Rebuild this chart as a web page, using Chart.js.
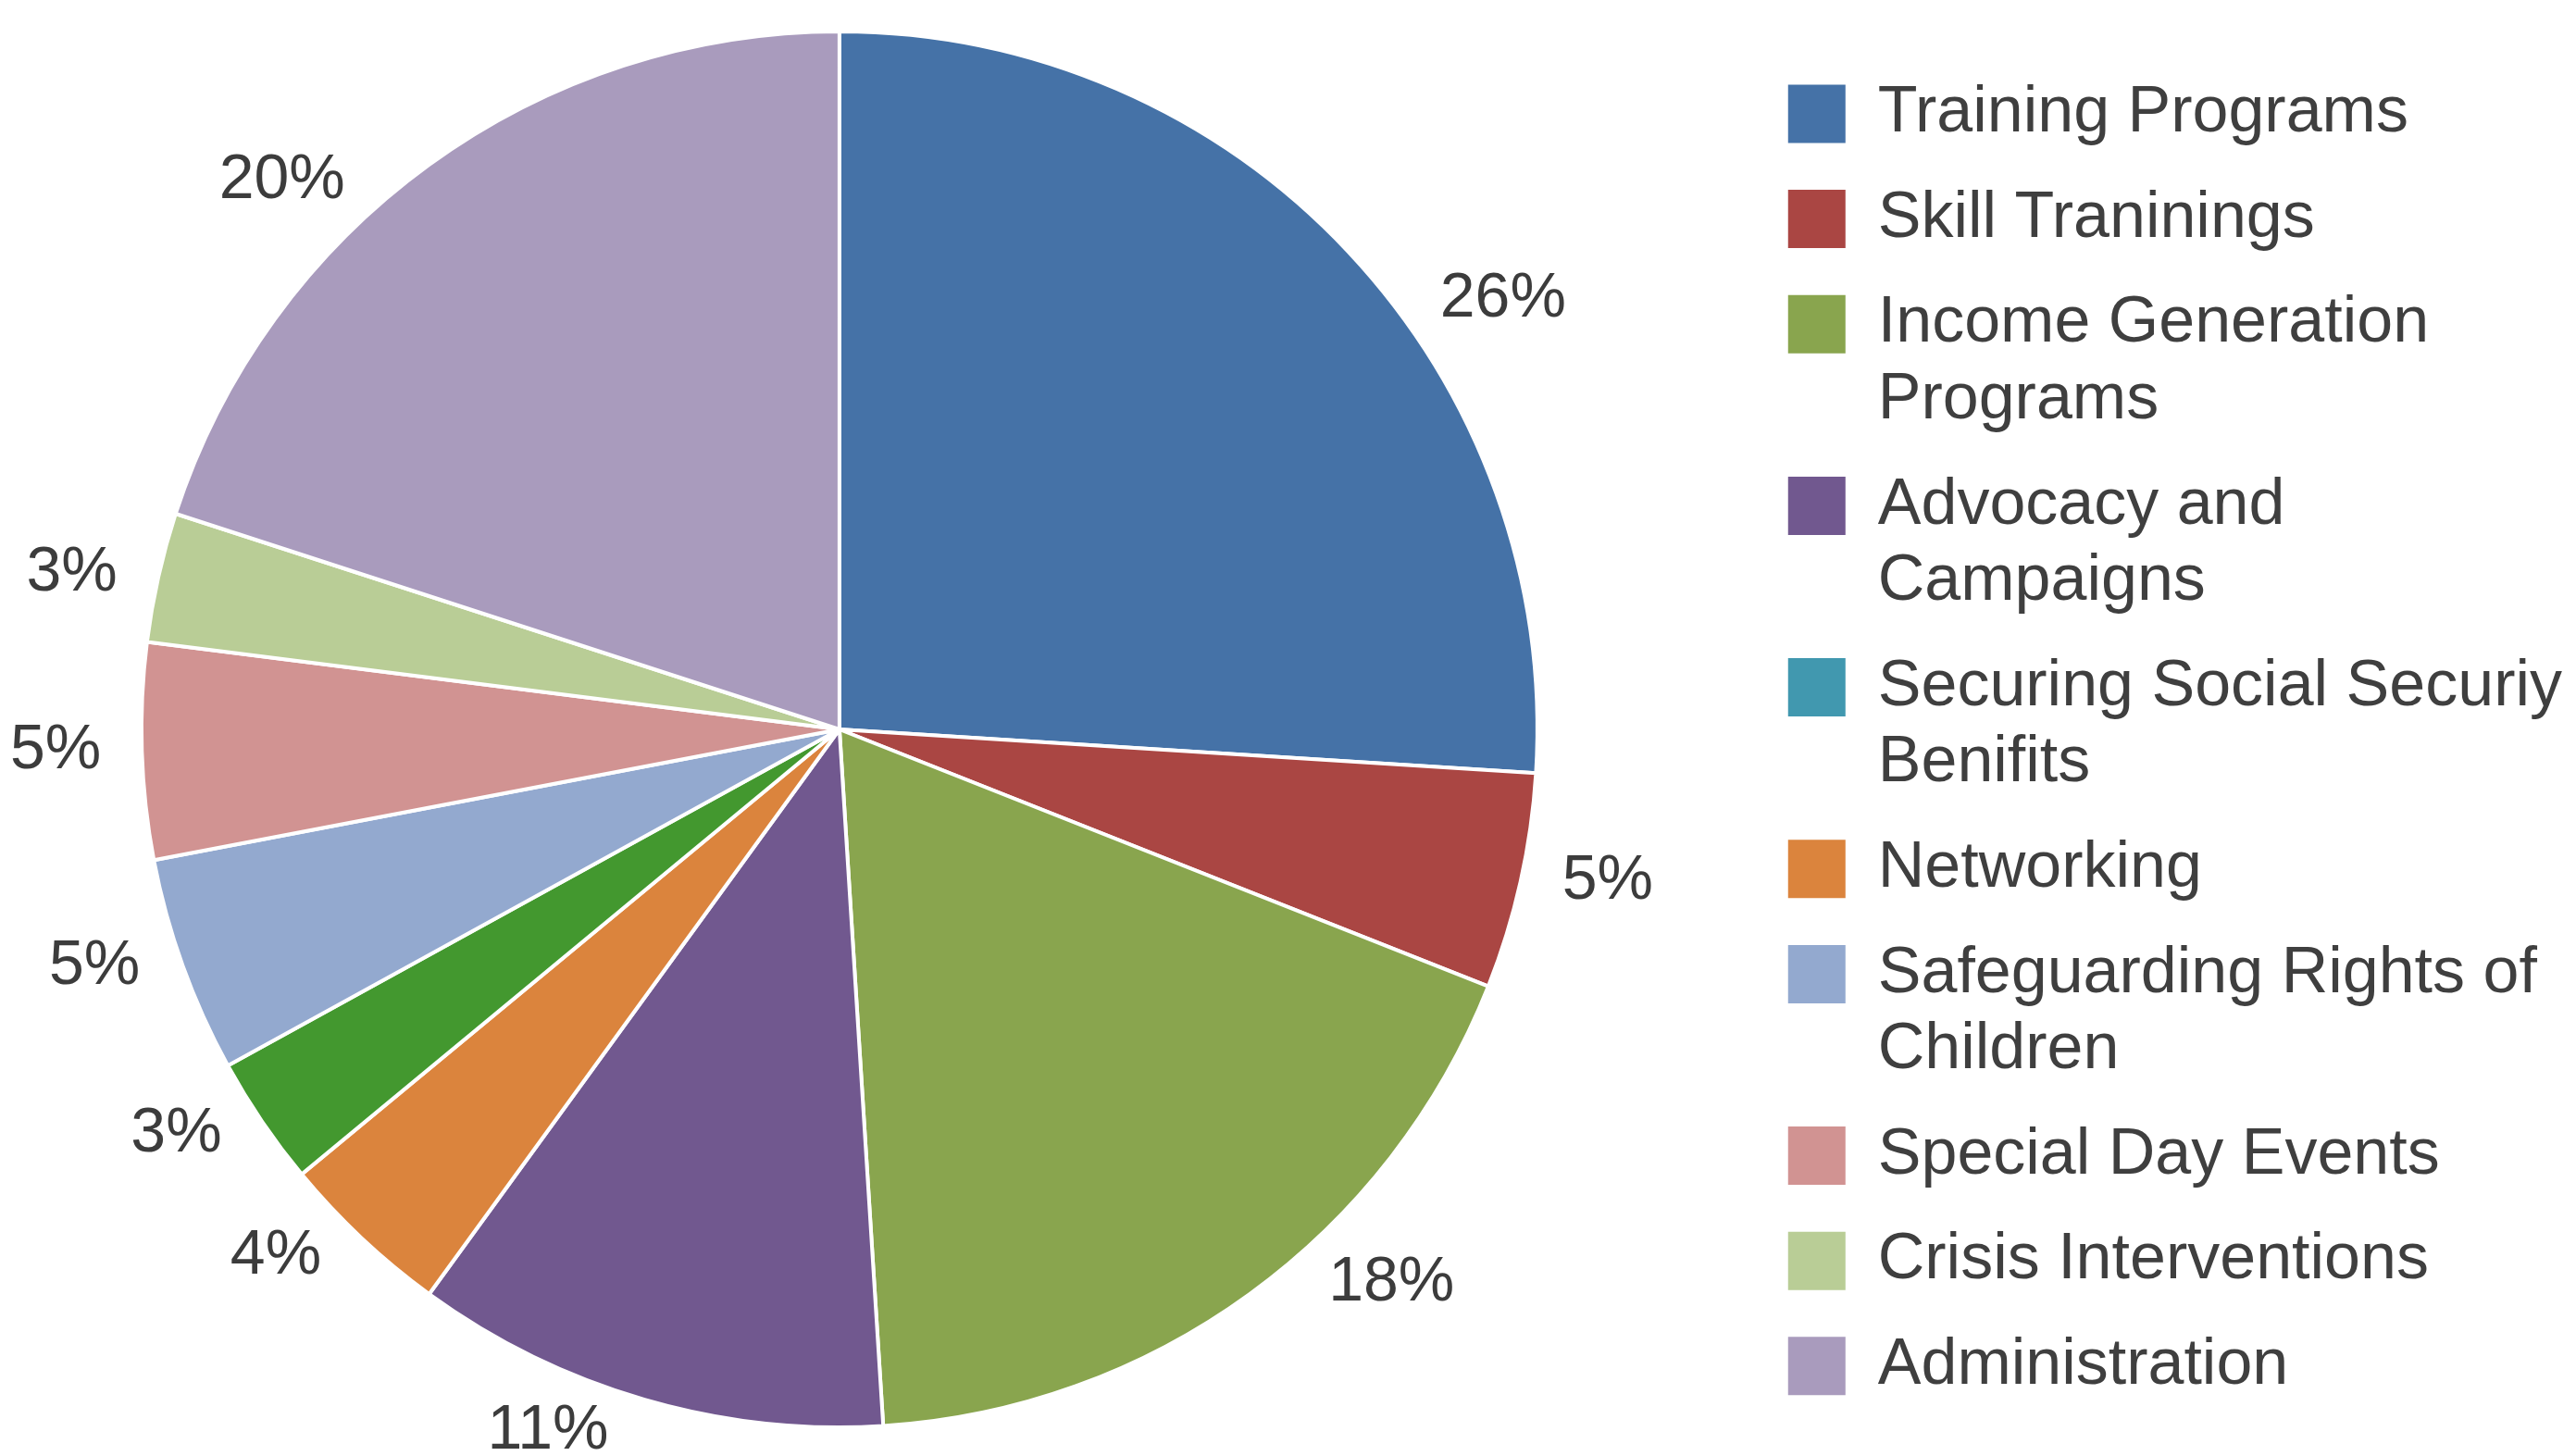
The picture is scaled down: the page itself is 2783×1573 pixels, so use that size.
<!DOCTYPE html>
<html>
<head>
<meta charset="utf-8">
<script src="https://cdn.jsdelivr.net/npm/chart.js@4.4.1/dist/chart.umd.min.js"></script>
<style>
  html, body { margin: 0; padding: 0; background: #ffffff; overflow: hidden; width: 2783px; height: 1573px; position: relative; }
  #c { position: absolute; left: -87px; top: 0; }
</style>
</head>
<body>
<canvas id="c" width="2870" height="1573"></canvas>
<script>
// ---- data (legend order) ----
const categories = [
  'Training Programs',
  'Skill Traninings',
  'Income Generation Programs',
  'Advocacy and Campaigns',
  'Securing Social Securiy Benifits',
  'Networking',
  'Safeguarding Rights of Children',
  'Special Day Events',
  'Crisis Interventions',
  'Administration'
];
const shares = [26, 5, 18, 11, 3, 4, 5, 5, 3, 20];
// order in which the slices appear clockwise from 12 o'clock
const sliceOrder = [0, 1, 2, 3, 5, 4, 6, 7, 8, 9];
const legendColors = ['#4572A7', '#AA4643', '#89A54E', '#71588F', '#4198AF', '#DB843D', '#93A9CF', '#D19392', '#B9CD96', '#A99BBD'];
const sliceColors  = ['#4572A7', '#AA4643', '#89A54E', '#71588F', '#43982F', '#DB843D', '#93A9CF', '#D19392', '#B9CD96', '#A99BBD'];

// ---- styling ----
const FONT = '"Liberation Sans", Arial, sans-serif';
const legendFontSize = 70;
const wrapWidth = 760;

function wrap(text) {
  const ctx = document.createElement('canvas').getContext('2d');
  ctx.font = legendFontSize + 'px ' + FONT;
  const words = text.split(' ');
  const lines = [];
  let line = '';
  for (const w of words) {
    const t = line ? line + ' ' + w : w;
    if (line && ctx.measureText(t).width > wrapWidth) { lines.push(line); line = w; }
    else line = t;
  }
  lines.push(line);
  return lines;
}

// percentage labels outside the pie, anchored by their inner edge;
// larger slices pull their label a little toward the horizontal
const pctLabels = {
  id: 'pctLabels',
  afterDatasetsDraw(chart) {
    const ctx = chart.ctx;
    const meta = chart.getDatasetMeta(0);
    const values = chart.data.datasets[0].data;
    ctx.save();
    ctx.font = '68px ' + FONT;
    ctx.fillStyle = '#3c3c3c';
    ctx.textBaseline = 'middle';
    meta.data.forEach((arc, i) => {
      const p = arc.getProps(['x', 'y', 'startAngle', 'endAngle', 'outerRadius'], true);
      const theta = (p.startAngle + p.endAngle) / 2 + Math.PI / 2;
      const k = 1 + 0.012 * values[i];
      const phi = Math.atan2(k * Math.sin(theta), Math.cos(theta));
      const d = p.outerRadius + 44;
      ctx.textAlign = Math.sin(phi) >= 0 ? 'left' : 'right';
      ctx.fillText(values[i] + '%', p.x + d * Math.sin(phi), p.y - d * Math.cos(phi));
    });
    ctx.restore();
  }
};

new Chart(document.getElementById('c'), {
  type: 'pie',
  data: {
    labels: sliceOrder.map(i => categories[i]),
    datasets: [{
      data: sliceOrder.map(i => shares[i]),
      backgroundColor: sliceOrder.map(i => sliceColors[i]),
      borderColor: '#ffffff',
      borderWidth: 4,
      radius: 754
    }]
  },
  options: {
    responsive: false,
    animation: false,
    radius: 754,
    layout: { padding: { left: 0, top: 3, right: 5, bottom: 0 } },
    plugins: {
      tooltip: { enabled: false },
      legend: {
        position: 'right',
        align: 'start',
        maxWidth: 882,
        title: { display: true, text: '', padding: { top: 44, bottom: 0 }, font: { size: 10, lineHeight: 1 } },
        labels: {
          boxWidth: 62,
          boxHeight: 63,
          padding: 31,
          color: '#3f3f3f',
          font: { family: FONT, size: legendFontSize, lineHeight: 1.18 },
          generateLabels: () => categories.map((c, i) => ({
            text: wrap(c),
            fillStyle: legendColors[i],
            strokeStyle: legendColors[i],
            lineWidth: 0,
            hidden: false,
            fontColor: '#3f3f3f',
            index: sliceOrder.indexOf(i)
          }))
        }
      }
    }
  },
  plugins: [pctLabels]
});
</script>
</body>
</html>
